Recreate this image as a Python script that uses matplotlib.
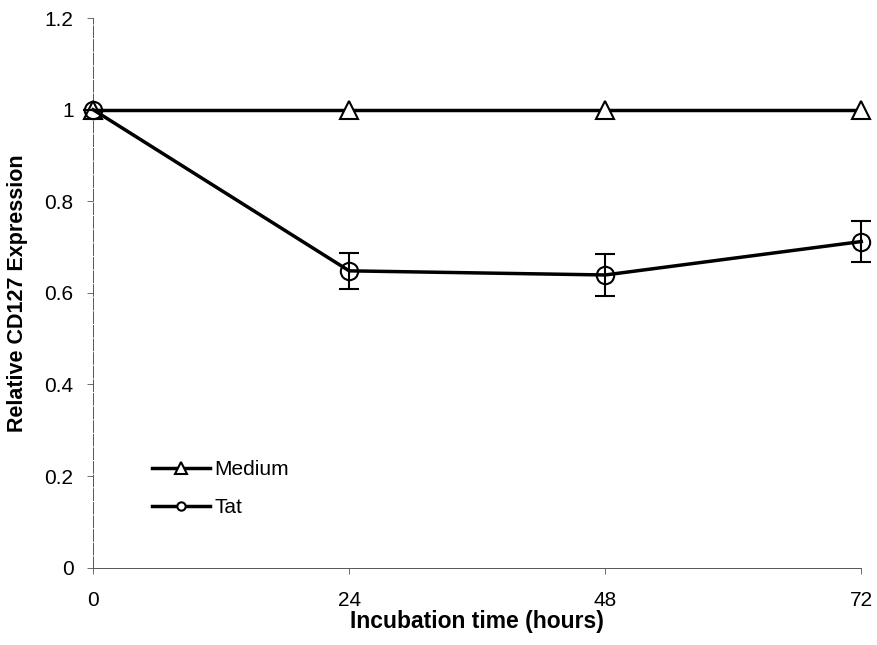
import matplotlib.pyplot as plt
from matplotlib.lines import Line2D

plt.rcParams['font.family'] = ['Liberation Sans', 'DejaVu Sans']

# Data
hours = [0, 24, 48, 72]
medium = [1.0, 1.0, 1.0, 1.0]
tat = [1.0, 0.648, 0.639, 0.712]
tat_err = [0.0, 0.040, 0.046, 0.045]

fig = plt.figure(figsize=(8.78, 6.45), dpi=100)
ax = fig.add_axes([0.106, 0.120, 0.875, 0.852])

ax.plot(hours, medium, '-', color='black', linewidth=2.5, marker='^',
        markersize=13, markerfacecolor='white', markeredgecolor='black',
        markeredgewidth=1.5, zorder=3, clip_on=False)
eb = ax.errorbar(hours, tat, yerr=tat_err, fmt='-', color='black', linewidth=2.5,
                 marker='o', markersize=12.5, markerfacecolor='none',
                 markeredgecolor='black', markeredgewidth=1.5,
                 ecolor='black', elinewidth=1.5, capsize=7, capthick=1.5, zorder=4)
for artist in eb.lines[0:1] + tuple(eb.lines[1]) + tuple(eb.lines[2]):
    artist.set_clip_on(False)

ax.set_xlim(0, 72)
ax.set_ylim(0, 1.2)
ax.set_xticks(hours)
ax.set_yticks([0, 0.2, 0.4, 0.6, 0.8, 1.0, 1.2])
ax.set_yticklabels(['0', '0.2', '0.4', '0.6', '0.8', '1', '1.2'])
ax.tick_params(labelsize=15, direction='out', length=4, width=0.6,
               colors='#555555', labelcolor='black')
ax.tick_params(axis='x', pad=13)
ax.tick_params(axis='y', pad=10)

for side in ['top', 'right']:
    ax.spines[side].set_visible(False)
for side in ['left', 'bottom']:
    ax.spines[side].set_color('#555555')
    ax.spines[side].set_linewidth(0.7)
ax.spines['left'].set_linestyle((0, (12, 2)))

ax.set_xlabel('Incubation time (hours)', fontsize=16.5, fontweight='bold', labelpad=0)
ax.set_ylabel('Relative CD127 Expression', fontsize=15.5, fontweight='bold', labelpad=12)

handles = [
    Line2D([], [], color='black', linewidth=2.5, marker='^', markersize=9,
           markerfacecolor='white', markeredgewidth=1.5),
    Line2D([], [], color='black', linewidth=2.5, marker='o', markersize=6,
           markerfacecolor='white', markeredgewidth=1.5),
]
ax.legend(handles, ['Medium', 'Tat'], loc='lower left',
          bbox_to_anchor=(0.052, 0.058), frameon=False, fontsize=15,
          handlelength=2.8, handletextpad=0.2, labelspacing=0.9)

fig.savefig('out.png', dpi=100)
